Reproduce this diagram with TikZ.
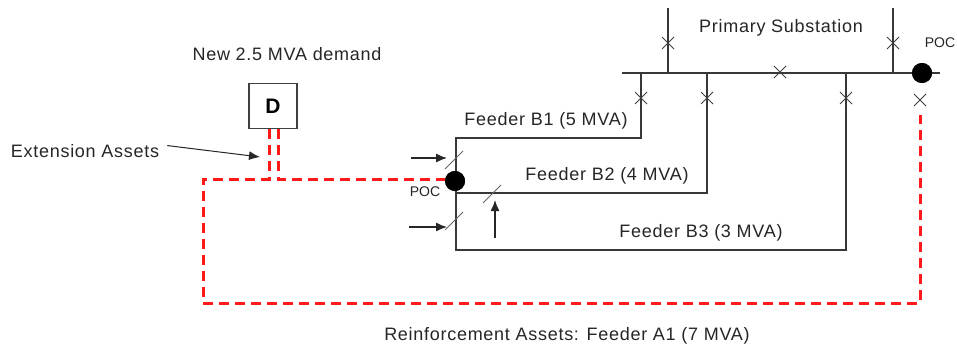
\documentclass[tikz,border=0pt]{standalone}
\usepackage{fontspec}
\setmainfont{Liberation Sans}
\usetikzlibrary{arrows.meta}
\tikzset{
  wire/.style={draw=black!78, line width=1.3pt},
  redline/.style={draw=red!90!white, line width=3pt, dash pattern=on 10pt off 6pt},
  brk/.style={draw=black!75, line width=0.8pt},
  lbl/.style={anchor=base, inner sep=0pt, font=\fontsize{18}{20}\selectfont\addfontfeature{LetterSpace=4}, text=black!85},
  poclbl/.style={anchor=base, inner sep=0pt, font=\fontsize{14}{16}\selectfont, text=black!85},
  dot/.style={circle, fill=black, inner sep=0pt, minimum size=20pt},
  pointer/.style={draw=black!85, line width=1.3pt, -{Latex[length=11pt,width=9pt]}},
  slash/.style={draw=black!60, line width=1pt},
  dbox/.style={draw=black!75, line width=1.2pt, minimum width=48pt, minimum height=45pt, inner sep=0pt, font=\fontsize{21}{22}\selectfont\bfseries}
}
\newcommand{\brkX}[2]{\draw[brk] (#1-6,#2-6) -- (#1+6,#2+6) (#1-6,#2+6) -- (#1+6,#2-6);}
\begin{document}
\begin{tikzpicture}[x=1pt,y=-1pt]
\useasboundingbox (0,0) rectangle (957,345);
\fill[white] (0,0) rectangle (957,345);

% coordinates
\coordinate (busL) at (622,73);
\coordinate (busR) at (940,73);
\coordinate (s1t) at (668,8);  \coordinate (s1b) at (668,73);
\coordinate (s2t) at (893,8);  \coordinate (s2b) at (893,73);
\coordinate (b1top) at (641,73); \coordinate (b1c) at (641,138); \coordinate (b1l) at (456,138);
\coordinate (b2top) at (707,73); \coordinate (b2c) at (707,193); \coordinate (b2l) at (456,193);
\coordinate (b3top) at (846,73); \coordinate (b3c) at (846,250); \coordinate (b3l) at (456,250);

% nodes
\node[dot] (pocR) at (922,73) {};
\node[dot] (pocL) at (455,181) {};
\node[dbox] (D) at (273,106) {D};

% texts
\node[lbl] (tps) at (781,33) {Primary Substation};
\node[lbl] (tnew) at (287,60) {New 2.5 MVA demand};
\node[lbl] (tb1) at (546,125) {Feeder B1 (5 MVA)};
\node[lbl] (tb2) at (607,180) {Feeder B2 (4 MVA)};
\node[lbl] (tb3) at (701,237) {Feeder B3 (3 MVA)};
\node[lbl] (text) at (85,157) {Extension Assets};
\node[lbl] (trein) at (567,340) {Reinforcement Assets: Feeder A1 (7 MVA)};
\node[poclbl] (tpocR) at (940,48) {POC};
\node[poclbl] (tpocL) at (425,196) {POC};

% red dashed assets
\coordinate (dl) at (269,129); \coordinate (dr) at (278,129);
\coordinate (jl) at (269,179); \coordinate (jr) at (278,179);
\coordinate (c1) at (203,179); \coordinate (c2) at (203,303);
\coordinate (c3) at (920,303); \coordinate (c4) at (920,115);
\draw[redline] (dl) -- (jl) -- (c1) -- (c2) -- (c3) -- (c4);
\draw[redline] (dr) -- (jr) -- (pocL.west |- jr);

% substation
\draw[wire] (busL) -- (busR);
\draw[wire] (s1t) -- (s1b);
\draw[wire] (s2t) -- (s2b);
\draw[wire] (b1top) -- (b1c) -- (b1l) -- (b3l) -- (b3c) -- (b3top);
\draw[wire] (b2top) -- (b2c) -- (b2l);
\node[dot] at (pocR) {};
\node[dot] at (pocL) {};

% breakers
\brkX{668}{43}
\brkX{893}{43}
\brkX{780}{72}
\brkX{641}{98}
\brkX{707}{98}
\brkX{846}{98}
\brkX{920}{100}

% open points (slashes)
\coordinate (o1a) at (445,169); \coordinate (o1b) at (463,151);
\coordinate (o2a) at (445,230); \coordinate (o2b) at (463,212);
\coordinate (o3a) at (483,203); \coordinate (o3b) at (501,185);
\draw[slash] (o1a) -- (o1b);
\draw[slash] (o2a) -- (o2b);
\draw[slash] (o3a) -- (o3b);

% arrows
\coordinate (a1s) at (411,158); \coordinate (a1e) at (447,158);
\coordinate (a2s) at (409,227); \coordinate (a2e) at (447,227);
\coordinate (a3s) at (495,238); \coordinate (a3e) at (495,200);
\draw[pointer] (a1s) -- (a1e);
\draw[pointer] (a2s) -- (a2e);
\draw[pointer] (a3s) -- (a3e);
\coordinate (eend) at (260,157);
\draw[pointer, line width=1pt] (text.east) ++(8,-5) coordinate (estart) (estart) -- (eend);
\end{tikzpicture}
\end{document}
